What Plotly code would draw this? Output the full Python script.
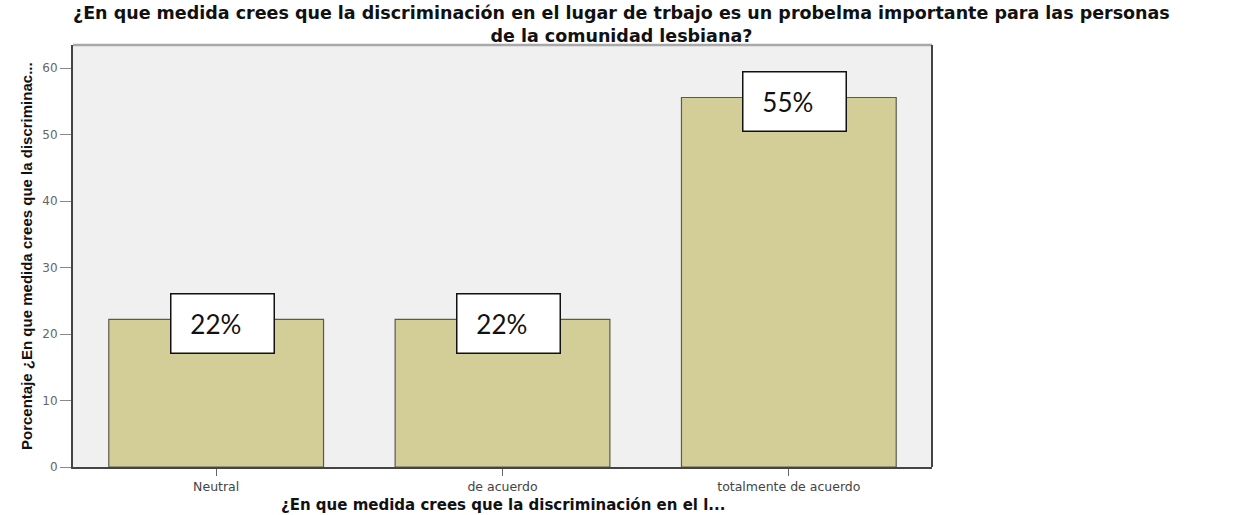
import plotly.graph_objects as go

categories = ["Neutral", "de acuerdo", "totalmente de acuerdo"]
percentages = [22.2, 22.2, 55.6]
bar_labels = ["22%", "22%", "55%"]
y_ticks = [0, 10, 20, 30, 40, 50, 60]

title_text = ("<b>¿En que medida crees que la discriminación en el lugar de trbajo es un probelma importante para las personas"
              "<br>de la comunidad lesbiana?</b>")
x_title = "<b>¿En que medida crees que la discriminación en el l...</b>"
y_title = "<b>Porcentaje ¿En que medida crees que la discriminac...</b>"

# plot area geometry (pixels)
W, H = 1243, 515
L, R, T, B = 73, 932, 45, 467
PH = B - T
PW = R - L

def py(pix):
    return (B - pix) / PH

def px(pix):
    return (pix - L) / PW

fig = go.Figure()
fig.add_trace(go.Bar(
    x=categories, y=percentages, width=0.75,
    marker=dict(color="#d3ce98", line=dict(color="#5a5a50", width=1.2)),
    hoverinfo="x+y",
))

for cat, val, lab in zip(categories, percentages, bar_labels):
    fig.add_annotation(
        x=cat, y=val, xref="x", yref="y", text=lab + "&nbsp;&nbsp;",
        showarrow=False, xshift=6, yshift=-4,
        font=dict(family="Lato", size=26, color="#111"),
        bgcolor="white", bordercolor="#111", borderwidth=1.5, borderpad=3,
        width=96, height=52, align="center", valign="middle",
    )

# chart title (two lines, one text block)
fig.add_annotation(text=title_text, xref="paper", yref="paper",
                   x=px(621), y=py(24), xanchor="center", yanchor="middle",
                   showarrow=False, align="center",
                   font=dict(family="DejaVu Sans", size=17.5, color="#111"))
# axis titles
fig.add_annotation(text=x_title, xref="paper", yref="paper",
                   x=px(503), y=py(505), xanchor="center", yanchor="middle",
                   showarrow=False, font=dict(family="DejaVu Sans", size=15, color="#111"))
fig.add_annotation(text=y_title, xref="paper", yref="paper", textangle=-90,
                   x=px(26), y=py(256), xanchor="center", yanchor="middle",
                   showarrow=False, font=dict(family="Liberation Sans", size=15, color="#111"))

# frame: light top edge, dark right edge
fig.add_shape(type="line", xref="paper", yref="paper", x0=0, x1=1, y0=1, y1=1,
              line=dict(color="#a8a8a8", width=2.5))
fig.add_shape(type="line", xref="paper", yref="paper", x0=1, x1=1, y0=0, y1=1,
              line=dict(color="#444", width=2))

fig.update_layout(
    width=W, height=H,
    margin=dict(l=L, r=W - R, t=T, b=H - B),
    paper_bgcolor="white", plot_bgcolor="#f0f0f0",
    showlegend=False,
    font=dict(family="DejaVu Sans"),
)

fig.update_xaxes(
    type="category", range=[-0.5, 2.5], automargin=False,
    showline=True, linecolor="#444", linewidth=2, mirror=False,
    ticks="outside", ticklen=7, tickcolor="#666",
    tickfont=dict(family="DejaVu Sans", size=12.5, color="#444"),
    showgrid=False,
)
fig.update_yaxes(
    range=[0, 63.5], tickvals=y_ticks, automargin=False,
    showline=True, linecolor="#444", linewidth=2, mirror=False,
    ticks="outside", ticklen=11, tickcolor="#888",
    tickfont=dict(family="DejaVu Sans", size=12, color="#666"),
    showgrid=False, zeroline=False,
)

fig.write_html("out.html", config={"displayModeBar": False},
               post_script="document.body.style.margin='0px';")
